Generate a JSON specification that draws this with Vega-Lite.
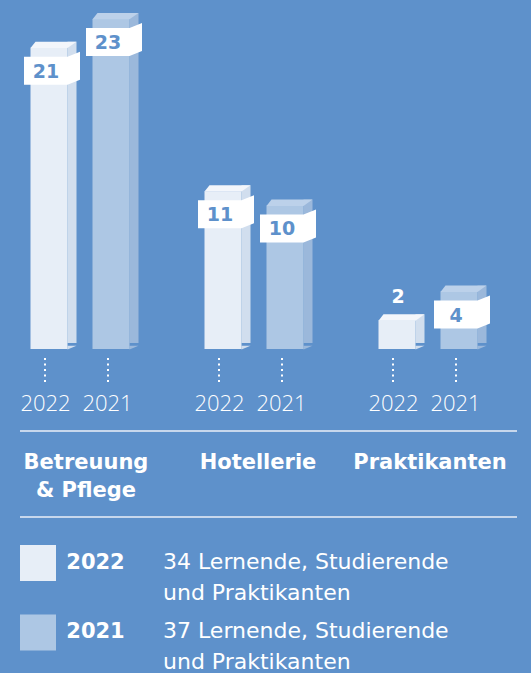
{
  "$schema": "https://vega.github.io/schema/vega-lite/v6.json",
  "background": "#5E91CB",
  "padding": 0,
  "spacing": 12,
  "config": {"view": {"stroke": null}, "font": "DejaVu Sans", "axis": {"grid": false}},
  "datasets": {
    "counts": [
      {"cat": "Betreuung & Pflege", "year": "2022", "value": 21},
      {"cat": "Betreuung & Pflege", "year": "2021", "value": 23},
      {"cat": "Hotellerie", "year": "2022", "value": 11},
      {"cat": "Hotellerie", "year": "2021", "value": 10},
      {"cat": "Praktikanten", "year": "2022", "value": 2},
      {"cat": "Praktikanten", "year": "2021", "value": 4}
    ],
    "categories": [
      {"cat": "Betreuung & Pflege", "label": "Betreuung\n& Pflege"},
      {"cat": "Hotellerie", "label": "Hotellerie"},
      {"cat": "Praktikanten", "label": "Praktikanten"}
    ],
    "legendrows": [
      {"year": "2022", "desc": "34 Lernende, Studierende\nund Praktikanten"},
      {"year": "2021", "desc": "37 Lernende, Studierende\nund Praktikanten"}
    ]
  },
  "vconcat": [
    {
      "data": {"name": "counts"},
      "facet": {"column": {"field": "cat", "type": "nominal", "sort": ["Betreuung & Pflege", "Hotellerie", "Praktikanten"], "title": null, "header": {"labels": false, "title": null}}},
      "spacing": 0,
      "spec": {
        "width": 174,
        "height": 349,
        "encoding": {
          "x": {"field": "year", "type": "nominal", "sort": ["2022", "2021"],
                "scale": {"type": "band", "paddingInner": 0, "paddingOuter": 0.4032, "align": 0.36},
                "axis": {"orient": "bottom", "title": null, "domain": false, "ticks": true, "tickSize": 24, "tickDash": [2, 3.5], "tickColor": "white", "tickWidth": 2, "offset": 11, "labelPadding": 12, "labelFont": "Open Sans", "labelFontWeight": 300, "labelFontSize": 22, "labelColor": "white", "labelAngle": 0, "labelOverlap": false, "translate": -3}},
          "y": {"field": "value", "type": "quantitative", "scale": {"domain": [0, 24.32], "nice": false, "zero": true}, "axis": null}
        },
        "layer": [
          {
            "mark": {"type": "bar", "width": 9, "xOffset": 23, "yOffset": -6, "y2Offset": -3},
            "encoding": {"fill": {"condition": {"test": "datum.year == '2022'", "value": "#D1DEEE"}, "value": "#9BB8DB"}}
          },
          {
            "mark": {"type": "point", "shape": "M0.4625,0.01L0.6875,-0.08L0.4625,-0.08Z", "size": 6400, "filled": true, "opacity": 1, "strokeWidth": 0},
            "encoding": {"y": {"datum": 0, "type": "quantitative"}, "fill": {"condition": {"test": "datum.year == '2022'", "value": "#D1DEEE"}, "value": "#9BB8DB"}}
          },
          {
            "mark": {"type": "bar", "width": 37},
            "encoding": {"fill": {"condition": {"test": "datum.year == '2022'", "value": "#E7EEF7"}, "value": "#ADC7E4"}}
          },
          {
            "mark": {"type": "point", "shape": "M-0.4625,0.01L0.4625,0.01L0.6875,-0.15L-0.3375,-0.15Z", "size": 6400, "filled": true, "opacity": 1, "strokeWidth": 0},
            "encoding": {"fill": {"condition": {"test": "datum.year == '2022'", "value": "#F3F6FB"}, "value": "#BCD1EA"}}
          },
          {
            "transform": [{"filter": "datum.value > 2"}],
            "mark": {"type": "point", "shape": "M-0.625,0.225L0.4625,0.225L0.775,0.1L0.775,0.8L0.4625,0.925L-0.625,0.925Z", "size": 6400, "filled": true, "opacity": 1, "strokeWidth": 0, "fill": "white"}
          },
          {
            "transform": [{"filter": "datum.value > 2"}],
            "mark": {"type": "text", "dy": 24, "dx": -3, "fontSize": 19, "fontWeight": "bold", "fill": "#5E91CB", "baseline": "middle", "align": "center"},
            "encoding": {"text": {"field": "value", "type": "quantitative"}}
          },
          {
            "transform": [{"filter": "datum.value <= 2"}],
            "mark": {"type": "text", "dy": -23, "dx": 1, "fontSize": 19, "fontWeight": "bold", "fill": "white", "baseline": "middle", "align": "center"},
            "encoding": {"text": {"field": "value", "type": "quantitative"}}
          }
        ]
      }
    },
    {
      "data": {"name": "categories"},
      "width": 531,
      "height": 86,
      "encoding": {
        "x": {"field": "cat", "type": "nominal", "sort": ["Betreuung & Pflege", "Hotellerie", "Praktikanten"], "scale": {"type": "band", "paddingInner": 0, "paddingOuter": 0.0436, "align": 0}, "axis": null}
      },
      "layer": [
        {
          "mark": {"type": "text", "lineBreak": "\n", "align": "center", "baseline": "top", "dy": -22, "fontSize": 21, "fontWeight": "bold", "fill": "white", "lineHeight": 28},
          "encoding": {"text": {"field": "label"}}
        },
        {
          "mark": {"type": "rule", "color": "#C8D8ED", "strokeWidth": 1.5, "xOffset": 20, "x2Offset": 1},
          "encoding": {
            "x": {"datum": "Betreuung & Pflege", "type": "nominal", "bandPosition": 0},
            "x2": {"datum": "Praktikanten", "bandPosition": 1},
            "y": {"datum": 1, "type": "quantitative", "scale": {"domain": [0, 1], "nice": false}, "axis": null}
          }
        },
        {
          "mark": {"type": "rule", "color": "#C8D8ED", "strokeWidth": 1.5, "xOffset": 20, "x2Offset": 1},
          "encoding": {
            "x": {"datum": "Betreuung & Pflege", "type": "nominal", "bandPosition": 0},
            "x2": {"datum": "Praktikanten", "bandPosition": 1},
            "y": {"datum": 0, "type": "quantitative", "axis": null}
          }
        }
      ]
    },
    {
      "data": {"name": "legendrows"},
      "width": 250,
      "height": 135.5,
      "encoding": {
        "y": {"field": "year", "type": "nominal", "sort": ["2022", "2021"], "scale": {"type": "point", "padding": 0.475}, "axis": null}
      },
      "layer": [
        {
          "mark": {"type": "point", "shape": "square", "size": 1296, "filled": true, "opacity": 1, "strokeWidth": 0},
          "encoding": {
            "x": {"datum": "sym", "type": "nominal", "scale": {"type": "point", "domain": ["sym", "yr", "desc"], "padding": 1, "align": 0.304}, "axis": null},
            "fill": {"condition": {"test": "datum.year == '2022'", "value": "#E7EEF7"}, "value": "#ADC7E4"}
          }
        },
        {
          "mark": {"type": "text", "fontSize": 21, "fontWeight": "bold", "fill": "white", "align": "center", "baseline": "middle", "dx": -5},
          "encoding": {"x": {"datum": "yr", "type": "nominal", "axis": null}, "text": {"field": "year"}}
        },
        {
          "mark": {"type": "text", "lineBreak": "\n", "fontSize": 22, "fill": "white", "align": "left", "baseline": "top", "dy": -11.5, "lineHeight": 31},
          "encoding": {"x": {"datum": "desc", "type": "nominal", "axis": null}, "text": {"field": "desc"}}
        }
      ]
    }
  ]
}
